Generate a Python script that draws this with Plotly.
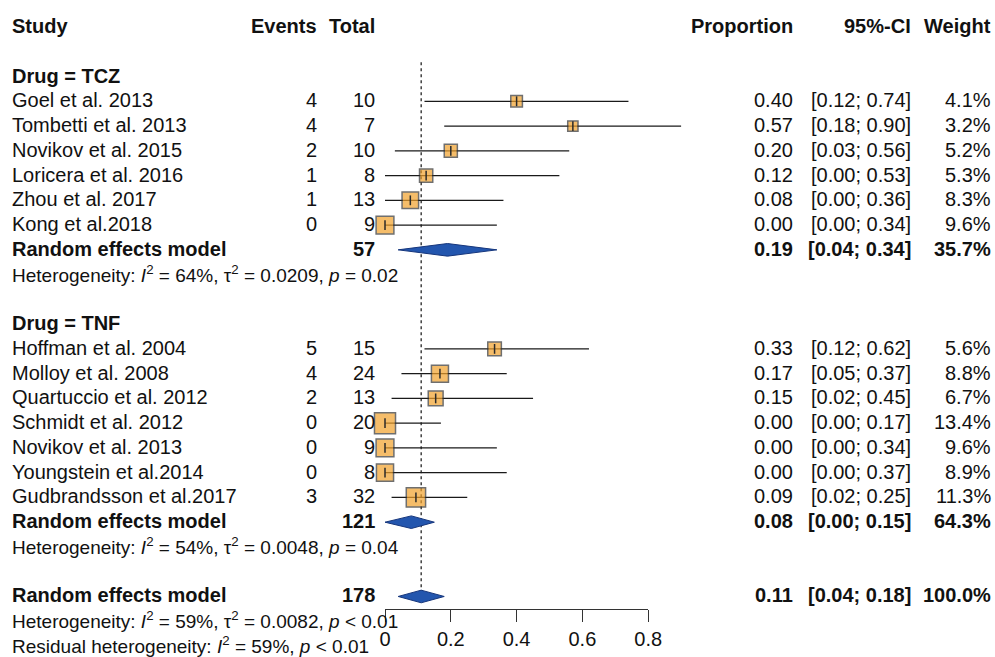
import math
import plotly.graph_objects as go

# ---------------- data ----------------
tcz_study = ["Goel et al. 2013", "Tombetti et al. 2013", "Novikov et al. 2015",
             "Loricera et al. 2016", "Zhou et al. 2017", "Kong et al.2018"]
tcz_events = [4, 4, 2, 1, 1, 0]
tcz_total = [10, 7, 10, 8, 13, 9]
tcz_prop = [0.40, 0.571, 0.20, 0.125, 0.077, 0.00]
tcz_lo = [0.12, 0.18, 0.03, 0.00, 0.00, 0.00]
tcz_hi = [0.74, 0.90, 0.56, 0.53, 0.36, 0.34]
tcz_weight = [4.1, 3.2, 5.2, 5.3, 8.3, 9.6]

tnf_study = ["Hoffman et al. 2004", "Molloy et al. 2008", "Quartuccio et al. 2012",
             "Schmidt et al. 2012", "Novikov et al. 2013", "Youngstein et al.2014",
             "Gudbrandsson et al.2017"]
tnf_events = [5, 4, 2, 0, 0, 0, 3]
tnf_total = [15, 24, 13, 20, 9, 8, 32]
tnf_prop = [0.333, 0.167, 0.154, 0.00, 0.00, 0.00, 0.094]
tnf_lo = [0.12, 0.05, 0.02, 0.00, 0.00, 0.00, 0.02]
tnf_hi = [0.62, 0.37, 0.45, 0.17, 0.34, 0.37, 0.25]
tnf_weight = [5.6, 8.8, 6.7, 13.4, 9.6, 8.9, 11.3]

group_labels = ["Drug = TCZ", "Drug = TNF"]
group_total = [57, 121]
group_est = [0.19, 0.08]
group_lo = [0.04, 0.00]
group_hi = [0.34, 0.15]
group_weight = ["35.7%", "64.3%"]
group_het = [("64%", "0.0209", "= 0.02"), ("54%", "0.0048", "= 0.04")]

overall_total = 178
overall_est = 0.11
overall_lo = 0.04
overall_hi = 0.18
overall_weight = "100.0%"
overall_het = ("59%", "0.0082", "&lt; 0.01")
resid_het = ("59%", "&lt; 0.01")

headers = ["Study", "Events", "Total", "Proportion", "95%-CI", "Weight"]
tick_vals = [0, 0.2, 0.4, 0.6, 0.8]
tick_text = ["0", "0.2", "0.4", "0.6", "0.8"]

# ---------------- layout geometry ----------------
W, H = 995, 657
X0_PX, PX_PER_UNIT = 385, 329
ROW0_PX, ROW_PX = 27, 24.76
AXIS_PX = 609

def px2x(px):
    return (px - X0_PX) / PX_PER_UNIT

def row2paper(r):
    return 1 - (ROW0_PX - 1 + ROW_PX * r) / H

COL_STUDY = 12
COL_EVENTS = 317
COL_TOTAL = 375
COL_PROP = 793
COL_CI = 911
COL_W = 991

FONT = "Liberation Sans, Arial, sans-serif"
FS = 20
FS_HET = 19
TXT = "#111111"
SQ_FILL = "#F2A22C"
SQ_LINE = "#333333"
DIA_FILL = "#2356AE"
DIA_LINE = "#16367C"

annotations = []

def text(px, row, s, anchor="left", size=FS, bold=False):
    if bold:
        s = "<b>" + s + "</b>"
    annotations.append(dict(
        x=px / W, xref="paper", y=row2paper(row), yref="paper", text=s, showarrow=False,
        xanchor=anchor, yanchor="middle", borderpad=0, borderwidth=0,
        font=dict(family=FONT, size=size, color=TXT)))

def het_text(I2, tau2, p):
    return ("Heterogeneity: <i>I</i><sup>2</sup> = %s, τ<sup>2</sup> = %s, <i>p</i> %s"
            % (I2, tau2, p))

# header
hdr_cols = [(COL_STUDY, "left"), (COL_EVENTS, "right"), (COL_TOTAL, "right"),
            (COL_PROP, "right"), (COL_CI, "right"), (COL_W, "right")]
for (px, anc), h in zip(hdr_cols, headers):
    text(px, 0, h, anc, bold=True)

ci_x, ci_y = [], []
sq_x, sq_y, sq_s = [], [], []
diamonds = []

groups = [
    (tcz_study, tcz_events, tcz_total, tcz_prop, tcz_lo, tcz_hi, tcz_weight),
    (tnf_study, tnf_events, tnf_total, tnf_prop, tnf_lo, tnf_hi, tnf_weight),
]

row = 2
for gi, (st, ev, tot, pr, lo, hi, wt) in enumerate(groups):
    text(COL_STUDY, row, group_labels[gi], bold=True)
    row += 1
    for i in range(len(st)):
        text(COL_STUDY, row, st[i])
        text(COL_EVENTS, row, str(ev[i]), "right")
        text(COL_TOTAL, row, str(tot[i]), "right")
        text(COL_PROP, row, "%.2f" % pr[i], "right")
        text(COL_CI, row, "[%.2f; %.2f]" % (lo[i], hi[i]), "right")
        text(COL_W, row, "%.1f%%" % wt[i], "right")
        ci_x += [lo[i], hi[i], None]
        ci_y += [row, row, None]
        sq_x.append(pr[i]); sq_y.append(row)
        sq_s.append(5.74 * math.sqrt(wt[i]))
        row += 1
    text(COL_STUDY, row, "Random effects model", bold=True)
    text(COL_TOTAL, row, str(group_total[gi]), "right", bold=True)
    text(COL_PROP, row, "%.2f" % group_est[gi], "right", bold=True)
    text(COL_CI, row, "[%.2f; %.2f]" % (group_lo[gi], group_hi[gi]), "right", bold=True)
    text(COL_W, row, group_weight[gi], "right", bold=True)
    diamonds.append((group_lo[gi], group_est[gi], group_hi[gi], row))
    row += 1
    text(COL_STUDY, row, het_text(*group_het[gi]), size=FS_HET)
    row += 2

# overall
ov_row = row
text(COL_STUDY, row, "Random effects model", bold=True)
text(COL_TOTAL, row, str(overall_total), "right", bold=True)
text(COL_PROP, row, "%.2f" % overall_est, "right", bold=True)
text(COL_CI, row, "[%.2f; %.2f]" % (overall_lo, overall_hi), "right", bold=True)
text(COL_W, row, overall_weight, "right", bold=True)
diamonds.append((overall_lo, overall_est, overall_hi, row))
row += 1
text(COL_STUDY, row, het_text(*overall_het), size=FS_HET)
row += 1
text(COL_STUDY, row, "Residual heterogeneity: <i>I</i><sup>2</sup> = %s, <i>p</i> %s" % resid_het,
     size=FS_HET)

fig = go.Figure()

# reference (random effects) dotted line
fig.add_trace(go.Scatter(x=[overall_est, overall_est], y=[1.42, ov_row], mode="lines",
                         line=dict(color="#333333", width=1.4, dash="dot"),
                         hoverinfo="skip", showlegend=False))
# CI lines
fig.add_trace(go.Scatter(x=ci_x, y=ci_y, mode="lines",
                         line=dict(color="#1a1a1a", width=1.3),
                         hoverinfo="skip", showlegend=False))
# squares
fig.add_trace(go.Scatter(x=sq_x, y=sq_y, mode="markers",
                         marker=dict(symbol="square", size=sq_s, color=SQ_FILL,
                                     line=dict(color=SQ_LINE, width=1.5)),
                         cliponaxis=False, hoverinfo="skip", showlegend=False))
# point ticks
fig.add_trace(go.Scatter(x=sq_x, y=sq_y, mode="markers",
                         marker=dict(symbol="line-ns", size=7,
                                     line=dict(color="#2a2a2a", width=1.5)),
                         cliponaxis=False, hoverinfo="skip", showlegend=False))
# diamonds
HH = 0.255
for lo, est, hi, r in diamonds:
    fig.add_trace(go.Scatter(x=[lo, est, hi, est, lo], y=[r, r - HH, r, r + HH, r],
                             mode="lines", fill="toself", fillcolor=DIA_FILL,
                             line=dict(color=DIA_LINE, width=1),
                             hoverinfo="skip", showlegend=False))
# dummy trace carrying the visible proportion axis
fig.add_trace(go.Scatter(x=[], y=[], xaxis="x2", yaxis="y", mode="markers",
                         hoverinfo="skip", showlegend=False))

fig.update_layout(
    width=W, height=H, autosize=False,
    margin=dict(l=0, r=0, t=0, b=0, pad=0, autoexpand=False),
    paper_bgcolor="white", plot_bgcolor="rgba(0,0,0,0)",
    annotations=annotations,
    xaxis=dict(domain=[0, 1], range=[px2x(0), px2x(W)], visible=False, fixedrange=True,
               automargin=False),
    yaxis=dict(domain=[(H - AXIS_PX) / H, 1],
               range=[(AXIS_PX - ROW0_PX) / ROW_PX, -ROW0_PX / ROW_PX],
               visible=False, fixedrange=True, automargin=False),
    xaxis2=dict(domain=[X0_PX / W, (X0_PX + 0.8 * PX_PER_UNIT) / W], range=[0, 0.8],
                anchor="y", showline=True, linecolor="#333333", linewidth=1.3,
                automargin=False,
                ticks="outside", ticklen=12, tickwidth=1.3, tickcolor="#333333",
                tickvals=tick_vals, ticktext=tick_text, showgrid=False, zeroline=False,
                tickfont=dict(family=FONT, size=FS, color=TXT), fixedrange=True),
    showlegend=False,
)

fig.write_html("out.html")
